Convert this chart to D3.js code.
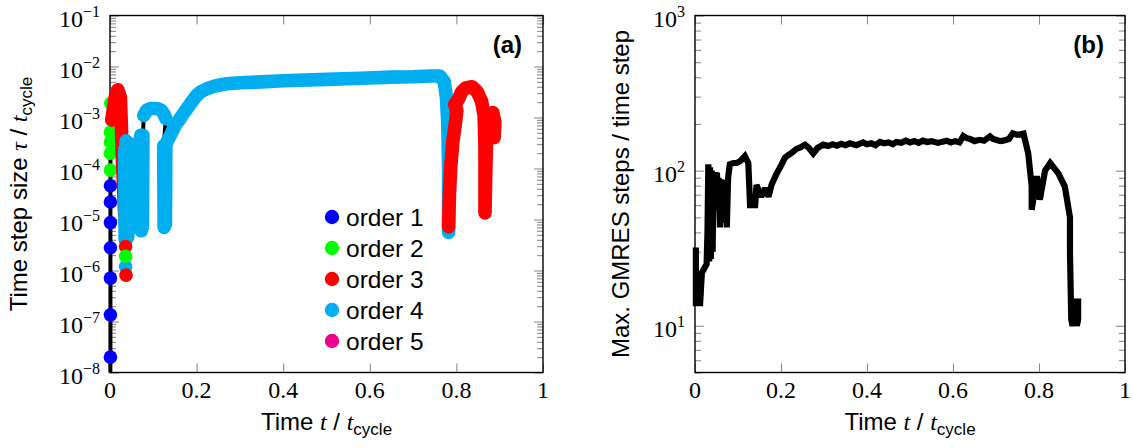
<!DOCTYPE html>
<html>
<head>
<meta charset="utf-8">
<script src="https://cdn.jsdelivr.net/npm/d3@7"></script>
<style>
  body { margin: 0; background: #fff; }
  svg text { fill: #000; }
</style>
</head>
<body>
<div id="chart"></div>
<script>
// ---- data ----
const xTickValues = [0, 0.2, 0.4, 0.6, 0.8, 1];
const xTickLabels = ["0", "0.2", "0.4", "0.6", "0.8", "1"];
const tauExponents = [-8, -7, -6, -5, -4, -3, -2, -1];
const stepExponents = [1, 2, 3];
const orderNames = ["order 1", "order 2", "order 3", "order 4", "order 5"];
const orderColors = ["#0000ff", "#00ff00", "#ff0000", "#00adef", "#ec008c"];

// panel (a): [t / t_cycle, tau / t_cycle]
const order1Start = [[0, 1e-9], [0.001, 2.0e-8], [0.001, 1.35e-7], [0.001, 7.1e-7], [0.001, 2.8e-6],
  [0.001, 8.7e-6], [0.001, 2.2e-5], [0.001, 4.6e-5]];
const order2Start = [[0.001, 9.3e-5], [0.001, 2.0e-4], [0.001, 3.3e-4], [0.001, 5.2e-4], [0.002, 1.9e-3]];
const order3Early = [[0.004, 8.9e-4], [0.012, 2.5e-3], [0.018, 3.5e-3], [0.024, 2.5e-3], [0.026, 8e-4],
  [0.028, 2e-4], [0.031, 5e-5], [0.034, 1.2e-5]];
const order4Low = [[0.036, 1.2e-6]];
const order3Low = [[0.036, 2.95e-6], [0.037, 8.1e-7]];
const order2Low = [[0.036, 1.9e-6]];
const order4EarlyA = [[0.034, 2.4e-4], [0.035, 4e-6], [0.037, 3.5e-4], [0.038, 4e-6], [0.040, 3.3e-4],
  [0.041, 4.5e-6], [0.043, 3.0e-4], [0.044, 6e-6], [0.046, 2.8e-4], [0.048, 8e-6], [0.052, 1.5e-4]];
const order4EarlyB = [[0.068, 3.5e-4], [0.070, 8e-6], [0.071, 4.5e-4], [0.072, 6e-6], [0.074, 4.2e-4],
  [0.075, 7e-6], [0.076, 4.5e-4]];
const order4Hump = [[0.078, 1.1e-3], [0.085, 1.4e-3], [0.095, 1.5e-3], [0.108, 1.5e-3], [0.118, 1.4e-3],
  [0.125, 1.15e-3], [0.129, 9.5e-4]];
const order4Main = [[0.124, 2.8e-4], [0.125, 7e-6], [0.127, 2.5e-4], [0.128, 8e-6], [0.129, 3e-4],
  [0.133, 3.5e-4], [0.15, 6.8e-4], [0.165, 1.05e-3], [0.178, 1.5e-3], [0.19, 2.1e-3], [0.2, 2.7e-3],
  [0.21, 3.2e-3], [0.225, 3.7e-3], [0.245, 4.2e-3], [0.27, 4.6e-3], [0.3, 4.8e-3], [0.35, 5.0e-3],
  [0.4, 5.25e-3], [0.5, 5.6e-3], [0.58, 5.9e-3], [0.65, 6.2e-3], [0.7, 6.3e-3], [0.74, 6.5e-3],
  [0.762, 6.5e-3], [0.772, 5e-3], [0.777, 2.5e-3], [0.78, 8e-4], [0.782, 1e-4], [0.782, 5.6e-6]];
const order3Late = [[0.782, 7.2e-6], [0.784, 3.2e-5], [0.787, 1.1e-4], [0.792, 3.5e-4], [0.798, 8e-4],
  [0.801, 1.4e-3], [0.796, 1.8e-3], [0.805, 2.3e-3], [0.812, 3.2e-3], [0.822, 3.8e-3], [0.836, 4e-3],
  [0.848, 3.2e-3], [0.858, 2.1e-3], [0.864, 1.1e-3], [0.866, 2.5e-4], [0.866, 1.35e-5], [0.868, 1e-4],
  [0.87, 5e-4], [0.876, 1.1e-3], [0.884, 1.25e-3], [0.889, 8e-4], [0.887, 4e-4]];

// panel (b): [t / t_cycle, max. GMRES steps per time step]
const gmresSteps = [[0.002, 32], [0.002, 14], [0.012, 14], [0.016, 22], [0.027, 25], [0.029, 40],
  [0.031, 110], [0.033, 26], [0.035, 105], [0.037, 27], [0.039, 100], [0.041, 30], [0.043, 95],
  [0.045, 55], [0.047, 98], [0.049, 60], [0.051, 97], [0.053, 58], [0.055, 90], [0.058, 43],
  [0.061, 88], [0.063, 50], [0.066, 87], [0.069, 46], [0.071, 85], [0.074, 43], [0.077, 90],
  [0.081, 110], [0.089, 112], [0.097, 112], [0.105, 115], [0.116, 124], [0.124, 112],
  [0.128, 60], [0.14, 60], [0.143, 81], [0.154, 68], [0.163, 77], [0.171, 68], [0.178, 81], [0.19, 96],
  [0.198, 105], [0.209, 121], [0.217, 126], [0.226, 131], [0.236, 138], [0.245, 141], [0.256, 147],
  [0.265, 140], [0.275, 129], [0.285, 140], [0.298, 147], [0.31, 144], [0.32, 148], [0.33, 145],
  [0.34, 149], [0.35, 146], [0.36, 150], [0.375, 146], [0.391, 152], [0.4, 148], [0.41, 150],
  [0.42, 146], [0.43, 153], [0.44, 150], [0.45, 152], [0.46, 148], [0.468, 153], [0.48, 151],
  [0.49, 156], [0.5, 152], [0.51, 155], [0.52, 151], [0.53, 156], [0.54, 153], [0.55, 155],
  [0.565, 151], [0.585, 156], [0.595, 152], [0.605, 155], [0.615, 152], [0.624, 167], [0.632, 162],
  [0.64, 160], [0.65, 155], [0.662, 158], [0.672, 156], [0.686, 166], [0.693, 160], [0.70, 158],
  [0.71, 155], [0.717, 156], [0.73, 160], [0.739, 174], [0.75, 170], [0.764, 173], [0.775, 129],
  [0.783, 79], [0.783, 56], [0.795, 92], [0.802, 65], [0.814, 100], [0.826, 112], [0.845, 96],
  [0.86, 79], [0.872, 50], [0.872, 30], [0.875, 11], [0.878, 10], [0.884, 12], [0.886, 15],
  [0.888, 10], [0.891, 11], [0.891, 15]];

// ---- layout ----
const width = 1133;
const height = 448;
const plotTop = 15.5;
const plotBottom = 372.5;
const markerR = 6.8;
const sans = "'Liberation Sans', Arial, Helvetica, sans-serif";
const serif = "'Liberation Serif', 'Times New Roman', serif";

const svg = d3.select("#chart").append("svg")
  .attr("width", width).attr("height", height)
  .attr("viewBox", [0, 0, width, height]);

const xA = d3.scaleLinear().domain([0, 1]).range([110, 543]);
const yA = d3.scaleLog().domain([1e-8, 1e-1]).range([plotBottom, plotTop]);
const xB = d3.scaleLinear().domain([0, 1]).range([695, 1125]);
const yB = d3.scaleLog().domain([5, 1000]).range([plotBottom, plotTop]);

function minorLogTicks(y) {
  const [lo, hi] = y.domain();
  const out = [];
  for (let e = Math.floor(Math.log10(lo)); e < Math.ceil(Math.log10(hi)); e++) {
    for (let k = 2; k <= 9; k++) {
      const v = k * Math.pow(10, e);
      if (v >= lo && v <= hi) out.push(v);
    }
  }
  return out;
}

function drawFrame(x, y, majorY) {
  const g = svg.append("g");
  const [x0, x1] = x.range();
  const [yb, yt] = y.range();
  const minorY = minorLogTicks(y);
  const tickStyle = (sel) => {
    sel.select(".domain").remove();
    sel.selectAll(".tick line").attr("stroke", "#8c8c8c").attr("stroke-width", 1.1);
  };
  g.append("g").attr("transform", `translate(0,${yb})`)
    .call(d3.axisBottom(x).tickValues(xTickValues).tickSize(-9).tickFormat("")).call(tickStyle);
  g.append("g").attr("transform", `translate(0,${yt})`)
    .call(d3.axisTop(x).tickValues(xTickValues).tickSize(-9).tickFormat("")).call(tickStyle);
  g.append("g").attr("transform", `translate(${x0},0)`)
    .call(d3.axisLeft(y).tickValues(majorY).tickSize(-9).tickFormat("")).call(tickStyle);
  g.append("g").attr("transform", `translate(${x0},0)`)
    .call(d3.axisLeft(y).tickValues(minorY).tickSize(-6).tickFormat("")).call(tickStyle);
  g.append("g").attr("transform", `translate(${x1},0)`)
    .call(d3.axisRight(y).tickValues(majorY).tickSize(-9).tickFormat("")).call(tickStyle);
  g.append("g").attr("transform", `translate(${x1},0)`)
    .call(d3.axisRight(y).tickValues(minorY).tickSize(-6).tickFormat("")).call(tickStyle);

  g.append("rect")
    .attr("x", x0).attr("y", yt).attr("width", x1 - x0).attr("height", yb - yt)
    .attr("fill", "none").attr("stroke", "#000").attr("stroke-width", 1.4);

  // x tick labels
  g.selectAll(".xlab").data(xTickValues).join("text")
    .attr("x", (d) => x(d)).attr("y", 398)
    .attr("text-anchor", "middle")
    .attr("font-family", serif).attr("font-size", 24)
    .text((d, i) => xTickLabels[i]);

  // y tick labels 10^e
  const yl = g.selectAll(".ylab").data(majorY).join("text")
    .attr("x", x0 - 10).attr("y", (d) => y(d) + 11)
    .attr("text-anchor", "end")
    .attr("font-family", serif).attr("font-size", 24);
  yl.append("tspan").text("10");
  yl.append("tspan").attr("dy", -10).attr("font-size", 16)
    .text((d) => String(Math.round(Math.log10(d))).replace("-", "\u2212"));
}

function xTitle(cx) {
  const t = svg.append("text")
    .attr("x", cx).attr("y", 430).attr("text-anchor", "middle")
    .attr("font-family", sans).attr("font-size", 24);
  t.append("tspan").text("Time ");
  t.append("tspan").attr("font-family", serif).attr("font-style", "italic").text("t");
  t.append("tspan").text(" / ");
  t.append("tspan").attr("font-family", serif).attr("font-style", "italic").text("t");
  t.append("tspan").attr("font-size", 17).attr("dy", 5).text("cycle");
}

// ---- panel (a) ----
drawFrame(xA, yA, tauExponents.map((e) => Math.pow(10, e)));

svg.append("defs").append("clipPath").attr("id", "clipA")
  .append("rect").attr("x", 90).attr("y", plotTop - 10).attr("width", 470).attr("height", plotBottom - plotTop + 10);

const runsA = [
  { order: 1, kind: "dots", pts: order1Start },
  { order: 2, kind: "dots", pts: order2Start },
  { order: 3, kind: "band", pts: order3Early },
  { order: 4, kind: "band", pts: order4EarlyA },
  { order: 4, kind: "dots", pts: order4Low },
  { order: 3, kind: "dots", pts: order3Low },
  { order: 2, kind: "dots", pts: order2Low },
  { order: 4, kind: "band", pts: order4EarlyB },
  { order: 4, kind: "band", pts: order4Hump },
  { order: 4, kind: "band", pts: order4Main },
  { order: 3, kind: "band", pts: order3Late },
];

const gA = svg.append("g").attr("clip-path", "url(#clipA)");
const lineA = d3.line().x((d) => xA(d[0])).y((d) => yA(d[1]));

const timeOrder = [0, 1, 2, 4, 5, 6, 3, 7, 8, 9, 10];
gA.append("path")
  .datum(timeOrder.flatMap((i) => runsA[i].pts))
  .attr("d", lineA)
  .attr("fill", "none").attr("stroke", "#000").attr("stroke-width", 4);

runsA.forEach((run) => {
  const color = orderColors[run.order - 1];
  if (run.kind === "band") {
    gA.append("path").datum(run.pts).attr("d", lineA)
      .attr("fill", "none").attr("stroke", color)
      .attr("stroke-width", 2 * markerR)
      .attr("stroke-linecap", "round").attr("stroke-linejoin", "round");
  } else {
    gA.selectAll(null).data(run.pts).join("circle")
      .attr("cx", (d) => xA(d[0])).attr("cy", (d) => yA(d[1]))
      .attr("r", markerR).attr("fill", color);
  }
});

// legend
const legend = svg.append("g");
orderNames.forEach((name, i) => {
  const ly = 217 + i * 31;
  legend.append("circle").attr("cx", 332).attr("cy", ly).attr("r", 7.2).attr("fill", orderColors[i]);
  legend.append("text").attr("x", 346).attr("y", ly + 8.5)
    .attr("font-family", sans).attr("font-size", 24.5).text(name);
});

svg.append("text").attr("x", 522).attr("y", 53).attr("text-anchor", "end")
  .attr("font-family", sans).attr("font-weight", "bold").attr("font-size", 24).text("(a)");

xTitle((xA.range()[0] + xA.range()[1]) / 2);

const yTitleA = svg.append("text")
  .attr("transform", `translate(27,${(plotTop + plotBottom) / 2}) rotate(-90)`)
  .attr("text-anchor", "middle").attr("font-family", sans).attr("font-size", 24);
yTitleA.append("tspan").text("Time step size ");
yTitleA.append("tspan").attr("font-family", serif).attr("font-style", "italic").text("\u03c4");
yTitleA.append("tspan").text(" / ");
yTitleA.append("tspan").attr("font-family", serif).attr("font-style", "italic").text("t");
yTitleA.append("tspan").attr("font-size", 17).attr("dy", 5).text("cycle");

// ---- panel (b) ----
drawFrame(xB, yB, stepExponents.map((e) => Math.pow(10, e)));

const lineB = d3.line().x((d) => xB(d[0])).y((d) => yB(d[1]));
svg.append("path").datum(gmresSteps).attr("d", lineB)
  .attr("fill", "none").attr("stroke", "#000").attr("stroke-width", 6.2)
  .attr("stroke-linejoin", "miter").attr("stroke-miterlimit", 2);

svg.append("text").attr("x", 1104).attr("y", 53).attr("text-anchor", "end")
  .attr("font-family", sans).attr("font-weight", "bold").attr("font-size", 24).text("(b)");

xTitle((xB.range()[0] + xB.range()[1]) / 2);

svg.append("text")
  .attr("transform", `translate(629,${(plotTop + plotBottom) / 2}) rotate(-90)`)
  .attr("text-anchor", "middle").attr("font-family", sans).attr("font-size", 24)
  .text("Max. GMRES steps / time step");
</script>
</body>
</html>
